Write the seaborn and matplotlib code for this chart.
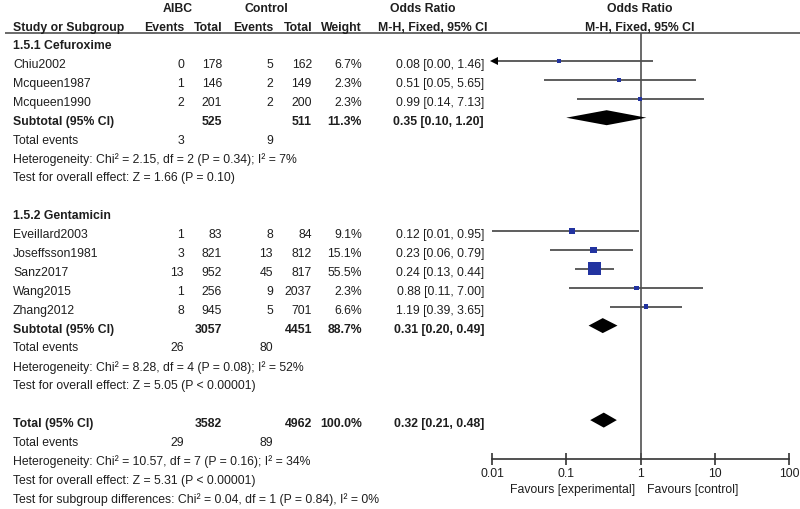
import numpy as np
import pandas as pd
import matplotlib
matplotlib.use("Agg")
import matplotlib.pyplot as plt
import seaborn as sns

# ---------------- data ----------------
group_names = ["1.5.1 Cefuroxime", "1.5.2 Gentamicin"]

studies_g1 = ["Chiu2002", "Mcqueen1987", "Mcqueen1990"]
ev_aibc_g1 = [0, 1, 2]
tot_aibc_g1 = [178, 146, 201]
ev_ctrl_g1 = [5, 2, 2]
tot_ctrl_g1 = [162, 149, 200]
weight_g1 = [6.7, 2.3, 2.3]
or_g1 = [0.08, 0.51, 0.99]
lo_g1 = [0.00, 0.05, 0.14]
hi_g1 = [1.46, 5.65, 7.13]

studies_g2 = ["Eveillard2003", "Joseffsson1981", "Sanz2017", "Wang2015", "Zhang2012"]
ev_aibc_g2 = [1, 3, 13, 1, 8]
tot_aibc_g2 = [83, 821, 952, 256, 945]
ev_ctrl_g2 = [8, 13, 45, 9, 5]
tot_ctrl_g2 = [84, 812, 817, 2037, 701]
weight_g2 = [9.1, 15.1, 55.5, 2.3, 6.6]
or_g2 = [0.12, 0.23, 0.24, 0.88, 1.19]
lo_g2 = [0.01, 0.06, 0.13, 0.11, 0.39]
hi_g2 = [0.95, 0.79, 0.44, 7.00, 3.65]

# pooled: subgroup 1, subgroup 2, overall
pooled_labels = ["Subtotal (95% CI)", "Subtotal (95% CI)", "Total (95% CI)"]
pooled_tot_aibc = [525, 3057, 3582]
pooled_tot_ctrl = [511, 4451, 4962]
pooled_weight = [11.3, 88.7, 100.0]
pooled_or = [0.35, 0.31, 0.32]
pooled_lo = [0.10, 0.20, 0.21]
pooled_hi = [1.20, 0.49, 0.48]
total_events_aibc = [3, 26, 29]
total_events_ctrl = [9, 80, 89]
heterogeneity = [
    "Heterogeneity: Chi² = 2.15, df = 2 (P = 0.34); I² = 7%",
    "Heterogeneity: Chi² = 8.28, df = 4 (P = 0.08); I² = 52%",
    "Heterogeneity: Chi² = 10.57, df = 7 (P = 0.16); I² = 34%",
]
overall_effect = [
    "Test for overall effect: Z = 1.66 (P = 0.10)",
    "Test for overall effect: Z = 5.05 (P < 0.00001)",
    "Test for overall effect: Z = 5.31 (P < 0.00001)",
]
subgroup_diff = "Test for subgroup differences: Chi² = 0.04, df = 1 (P = 0.84), I² = 0%"

axis_ticks = [0.01, 0.1, 1, 10, 100]
axis_tick_labels = ["0.01", "0.1", "1", "10", "100"]
favours_left = "Favours [experimental]"
favours_right = "Favours [control]"

# ---------------- layout / style ----------------
sns.set_theme(style="white")
plt.rcParams["font.family"] = ["Liberation Sans", "DejaVu Sans"]
FS = 8.8
TXT = "#1e1e1e"
LINE = "#505050"
BLUE = "#2233a0"

W, H = 800, 510
fig = plt.figure(figsize=(8.0, 5.1), dpi=100)
ax = fig.add_axes([0, 0, 1, 1])
ax.set_xlim(0, W)
ax.set_ylim(H, 0)
ax.axis("off")

ROW0, PITCH, TOFF = 62.0, 18.9, 3.0
def rowy(r):
    return ROW0 + PITCH * r

X_LABEL = 13
X_EV1, X_TOT1, X_EV2, X_TOT2, X_W, X_OR = 184, 222, 273, 312, 362, 484

def t(x, y, s, ha="left", bold=False):
    ax.text(x, y, s, ha=ha, va="center", fontsize=FS, color=TXT,
            fontweight="bold" if bold else "normal")

# headers
t(178, 9, "AIBC", "center", True)
t(266, 9, "Control", "center", True)
t(423, 9, "Odds Ratio", "center", True)
t(640, 9, "Odds Ratio", "center", True)
t(X_LABEL, 28, "Study or Subgroup", "left", True)
t(X_EV1, 28, "Events", "right", True)
t(X_TOT1, 28, "Total", "right", True)
t(X_EV2, 28, "Events", "right", True)
t(X_TOT2, 28, "Total", "right", True)
t(X_W, 28, "Weight", "right", True)
t(X_OR + 3, 28, "M-H, Fixed, 95% CI", "right", True)
t(640, 28, "M-H, Fixed, 95% CI", "center", True)
ax.hlines(34, 5, 800, color=LINE, lw=1.2)

# forest axes (log scale, y in pixel rows)
LX0, LX1 = 492, 789
fax = fig.add_axes([LX0 / W, 0, (LX1 - LX0) / W, 1])
fax.set_xscale("log")
fax.set_xlim(0.01, 100)
fax.set_ylim(H, 0)
fax.patch.set_alpha(0)
for sp in ["left", "right", "top"]:
    fax.spines[sp].set_visible(False)
fax.spines["bottom"].set_position(("data", 460))
fax.spines["bottom"].set_color("#333333")
fax.spines["bottom"].set_linewidth(1.2)
fax.set_yticks([])
fax.set_xticks(axis_ticks)
fax.set_xticklabels(axis_tick_labels)
fax.xaxis.set_minor_locator(matplotlib.ticker.NullLocator())
fax.tick_params(axis="x", direction="inout", length=8, width=1.2, color="#333333",
                labelsize=FS, labelcolor=TXT, pad=2, bottom=True)
fax.vlines(1, 34, 460, color=LINE, lw=1.2, zorder=1)

groups = [
    (studies_g1, ev_aibc_g1, tot_aibc_g1, ev_ctrl_g1, tot_ctrl_g1, weight_g1, or_g1, lo_g1, hi_g1),
    (studies_g2, ev_aibc_g2, tot_aibc_g2, ev_ctrl_g2, tot_ctrl_g2, weight_g2, or_g2, lo_g2, hi_g2),
]
start_rows = [-1, 8]

def diamond(y, o, lo, hi, h=7.5):
    fax.fill([lo, o, hi, o], [y, y - h, y, y + h], color="black", lw=0, zorder=3)

all_rows = []
for gi, (names, ea, ta, ec, tc, wt, orv, lov, hiv) in enumerate(groups):
    r = start_rows[gi]
    t(X_LABEL, rowy(r) + TOFF, group_names[gi], "left", True)
    for k in range(len(names)):
        rr = r + 1 + k
        y = rowy(rr) + TOFF
        t(X_LABEL, y, names[k])
        t(X_EV1, y, str(ea[k]), "right")
        t(X_TOT1, y, str(ta[k]), "right")
        t(X_EV2, y, str(ec[k]), "right")
        t(X_TOT2, y, str(tc[k]), "right")
        t(X_W, y, f"{wt[k]:.1f}%", "right")
        t(X_OR, y, f"{orv[k]:.2f} [{lov[k]:.2f}, {hiv[k]:.2f}]", "right")
        all_rows.append(dict(study=names[k], y=rowy(rr), OR=orv[k], lo=lov[k], hi=hiv[k], w=wt[k]))
    rs = r + 1 + len(names)
    y = rowy(rs) + TOFF
    t(X_LABEL, y, pooled_labels[gi], "left", True)
    t(X_TOT1, y, str(pooled_tot_aibc[gi]), "right", True)
    t(X_TOT2, y, str(pooled_tot_ctrl[gi]), "right", True)
    t(X_W, y, f"{pooled_weight[gi]:.1f}%", "right", True)
    t(X_OR, y, f"{pooled_or[gi]:.2f} [{pooled_lo[gi]:.2f}, {pooled_hi[gi]:.2f}]", "right", True)
    diamond(rowy(rs), pooled_or[gi], pooled_lo[gi], pooled_hi[gi])
    t(X_LABEL, rowy(rs + 1) + TOFF, "Total events")
    t(X_EV1, rowy(rs + 1) + TOFF, str(total_events_aibc[gi]), "right")
    t(X_EV2, rowy(rs + 1) + TOFF, str(total_events_ctrl[gi]), "right")
    t(X_LABEL, rowy(rs + 2) + TOFF, heterogeneity[gi])
    t(X_LABEL, rowy(rs + 3) + TOFF, overall_effect[gi])

# overall
rt = 19
y = rowy(rt) + TOFF
t(X_LABEL, y, pooled_labels[2], "left", True)
t(X_TOT1, y, str(pooled_tot_aibc[2]), "right", True)
t(X_TOT2, y, str(pooled_tot_ctrl[2]), "right", True)
t(X_W, y, f"{pooled_weight[2]:.1f}%", "right", True)
t(X_OR, y, f"{pooled_or[2]:.2f} [{pooled_lo[2]:.2f}, {pooled_hi[2]:.2f}]", "right", True)
diamond(rowy(rt), pooled_or[2], pooled_lo[2], pooled_hi[2])
t(X_LABEL, rowy(rt + 1) + TOFF, "Total events")
t(X_EV1, rowy(rt + 1) + TOFF, str(total_events_aibc[2]), "right")
t(X_EV2, rowy(rt + 1) + TOFF, str(total_events_ctrl[2]), "right")
t(X_LABEL, rowy(rt + 2) + TOFF, heterogeneity[2])
t(X_LABEL, rowy(rt + 3) + TOFF, overall_effect[2])
t(X_LABEL, rowy(rt + 4) + TOFF, subgroup_diff)

# study CIs and squares
df = pd.DataFrame(all_rows)
xmin = 0.01
for _, rw in df.iterrows():
    lo = max(rw["lo"], xmin)
    fax.hlines(rw["y"], lo, min(rw["hi"], 100), color=LINE, lw=1.3, zorder=2)
    if rw["lo"] < xmin:
        fax.plot([xmin * 1.08], [rw["y"]], marker="<", ms=6, color="black",
                 mew=0, zorder=3, clip_on=False)
df["s"] = np.maximum(1.6 * df["w"], 10.0)
sns.scatterplot(data=df, x="OR", y="y", marker="s", s=df["s"].values, color=BLUE,
                linewidth=0, ax=fax, zorder=4, legend=False)
fax.set_xlabel("")
fax.set_ylabel("")
fax.set_ylim(H, 0)

# favours labels
t(635, 490, favours_left, "right")
t(647, 490, favours_right, "left")

fig.savefig("out.png", dpi=100)
